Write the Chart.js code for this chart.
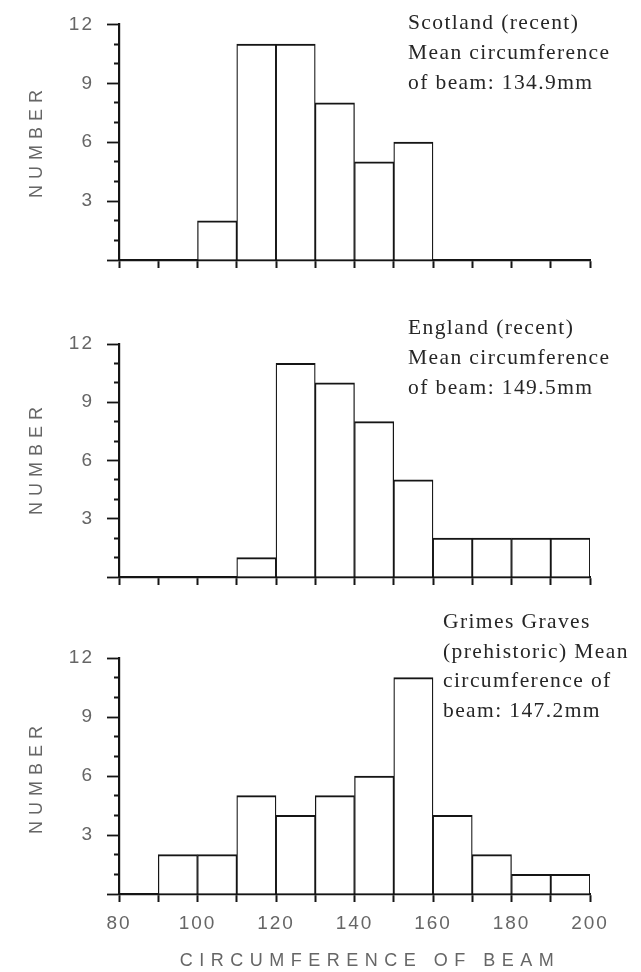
<!DOCTYPE html>
<html>
<head>
<meta charset="utf-8">
<title>Beam circumference</title>
<script src="https://cdn.jsdelivr.net/npm/chart.js@4.4.1/dist/chart.umd.min.js"></script>
<style>
    html, body { margin: 0; padding: 0; background: #fff; }
    #page { position: relative; width: 641px; height: 972px; overflow: hidden; }
    #page canvas { position: absolute; left: 0; }
    .note {
        position: absolute;
        font-family: "Liberation Serif", "Times New Roman", serif;
        font-size: 21.5px;
        line-height: 30px;
        letter-spacing: 1.4px;
        color: #262626;
        white-space: nowrap;
    }
    .axis-title {
        position: absolute;
        font-family: "Liberation Sans", Arial, sans-serif;
        font-size: 18px;
        color: #666;
        white-space: nowrap;
    }
    .y-title { letter-spacing: 6px; transform: translate(-50%, -50%) rotate(-90deg); }
    .x-title { letter-spacing: 6.5px; transform: translate(-50%, -50%); }
</style>
</head>
<body>
<div id="page">
    <canvas id="chart-scotland" width="641" height="300" style="top:0px"></canvas>
    <canvas id="chart-england" width="641" height="310" style="top:300px"></canvas>
    <canvas id="chart-grimes" width="641" height="362" style="top:610px"></canvas>

    <div class="note" style="left:408px; top:7px">Scotland (recent)<br>Mean circumference<br>of beam: 134.9mm</div>
    <div class="note" style="left:408px; top:312px">England (recent)<br>Mean circumference<br>of beam: 149.5mm</div>
    <div class="note" style="left:443px; top:607px; line-height:29.5px">Grimes Graves<br>(prehistoric) Mean<br>circumference of<br>beam: 147.2mm</div>

    <div class="axis-title y-title" style="left:36px; top:141px">NUMBER</div>
    <div class="axis-title y-title" style="left:36px; top:458px">NUMBER</div>
    <div class="axis-title y-title" style="left:36px; top:777px">NUMBER</div>
    <div class="axis-title x-title" style="left:370px; top:960px">CIRCUMFERENCE OF BEAM</div>
</div>

<script>
// 10 mm bins, 80 to 200
const binStarts = [80, 90, 100, 110, 120, 130, 140, 150, 160, 170, 180, 190];
const binWidth = 10;

const scotlandCounts = [0, 0, 2, 11, 11, 8, 5, 6, 0, 0, 0, 0];
const englandCounts = [0, 0, 0, 1, 11, 10, 8, 5, 2, 2, 2, 2];
const grimesCounts = [0, 2, 2, 5, 4, 5, 6, 11, 4, 2, 1, 1];

const xTickLabels = [80, 100, 120, 140, 160, 180, 200];
const yTickLabels = [3, 6, 9, 12];

const INK = '#151515';
const LABEL_GREY = '#666';
const SANS = '"Liberation Sans", Arial, sans-serif';

// canvas letterSpacing is reset whenever the canvas is resized, so set it before layout and draw
const tickSpacing = {
    id: 'tickSpacing',
    beforeUpdate(chart) { chart.ctx.letterSpacing = '2px'; },
    beforeDraw(chart) { chart.ctx.letterSpacing = '2px'; }
};

function makeHistogram(canvasId, counts, layout) {
    const ctx = document.getElementById(canvasId).getContext('2d');
    return new Chart(ctx, {
        type: 'bar',
        data: {
            datasets: [{
                data: binStarts.map((start, i) => ({ x: start + binWidth / 2, y: counts[i] })),
                backgroundColor: '#fff',
                borderColor: INK,
                borderWidth: { top: 2, left: 1.3, right: 1.3, bottom: 0 },
                borderSkipped: false,
                barPercentage: 1,
                categoryPercentage: 1
            }]
        },
        options: {
            responsive: false,
            animation: false,
            events: [],
            layout: { padding: { top: layout.padTop, right: 51, bottom: 0, left: 0 } },
            plugins: {
                legend: { display: false },
                tooltip: { enabled: false }
            },
            scales: {
                x: {
                    type: 'linear',
                    min: 80,
                    max: 200,
                    offset: false,
                    border: { color: INK, width: 2.2 },
                    grid: {
                        offset: false,
                        drawOnChartArea: false,
                        drawTicks: true,
                        tickLength: 8,
                        tickColor: INK,
                        tickWidth: 2
                    },
                    ticks: {
                        stepSize: 10,
                        autoSkip: false,
                        maxRotation: 0,
                        padding: 10,
                        color: LABEL_GREY,
                        font: { family: SANS, size: 19 },
                        callback: value => (layout.showXLabels && xTickLabels.includes(value)) ? String(value) : ''
                    },
                    afterFit: scale => { scale.height = layout.axisHeight; }
                },
                y: {
                    min: 0,
                    max: 12,
                    border: { color: INK, width: 2.2 },
                    grid: {
                        drawOnChartArea: false,
                        drawTicks: true,
                        tickLength: 12,
                        tickColor: INK,
                        tickWidth: 1.8,
                        // minor ticks only draw the 5px next to the axis
                        tickBorderDash: c => (c.tick && c.tick.value % 3 === 0) ? [] : [0, 7, 5, 0]
                    },
                    ticks: {
                        stepSize: 1,
                        autoSkip: false,
                        padding: 13,
                        color: LABEL_GREY,
                        font: { family: SANS, size: 19 },
                        callback: value => yTickLabels.includes(value) ? String(value) : ''
                    },
                    afterFit: scale => { scale.width = 119; }
                }
            }
        },
        plugins: [tickSpacing]
    });
}

makeHistogram('chart-scotland', scotlandCounts, { padTop: 24, axisHeight: 40, showXLabels: false });
makeHistogram('chart-england', englandCounts, { padTop: 44, axisHeight: 33, showXLabels: false });
makeHistogram('chart-grimes', grimesCounts, { padTop: 48, axisHeight: 78, showXLabels: true });
</script>
</body>
</html>
